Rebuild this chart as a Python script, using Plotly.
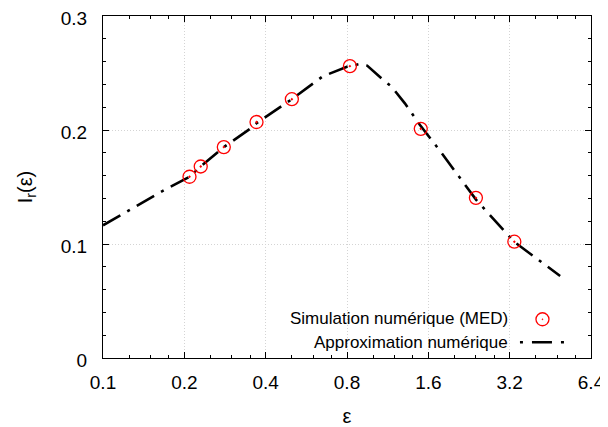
import plotly.graph_objects as go

# Simulation points (MED)
sim_x = [0.209, 0.23, 0.28, 0.37, 0.50, 0.82, 1.50, 2.40, 3.33]
sim_y = [0.159, 0.168, 0.185, 0.207, 0.227, 0.256, 0.201, 0.1405, 0.102]

# Numerical approximation curve
approx_x = [0.1, 0.164, 0.209, 0.23, 0.28, 0.35, 0.37, 0.5, 0.65, 0.8, 0.89, 0.95,
            1.09, 1.17, 1.31, 1.49, 1.74, 2.41, 3.33, 4.92]
approx_y = [0.1164, 0.1458, 0.159, 0.168, 0.185, 0.201, 0.206, 0.227, 0.247, 0.2555,
            0.2578, 0.2565, 0.2438, 0.238, 0.2234, 0.2043, 0.1838, 0.1385, 0.1018, 0.072]

x_ticks = [0.1, 0.2, 0.4, 0.8, 1.6, 3.2, 6.4]
x_ticktext = ["0.1", "0.2", "0.4", "0.8", "1.6", "3.2", "6.4"]
x_minor = [b * m for b in [0.1, 0.2, 0.4, 0.8, 1.6, 3.2] for m in (1.25, 1.5, 1.75)]
y_ticks = [0, 0.1, 0.2, 0.3]
y_ticktext = ["0", "0.1", "0.2", "0.3"]

legend_labels = ["Simulation numérique (MED)", "Approximation numérique"]

FONT = "Liberation Sans, Arial, Helvetica, sans-serif"
DASH = "20px,8px,3px,8px"

fig = go.Figure()
fig.add_trace(go.Scatter(x=approx_x, y=approx_y, mode="lines",
                         line=dict(color="black", width=2.6, dash=DASH),
                         name=legend_labels[1], showlegend=False))
fig.add_trace(go.Scatter(x=sim_x, y=sim_y, mode="markers",
                         marker=dict(symbol="circle-open-dot", size=13, color="red",
                                     line=dict(width=1.3, color="red")),
                         name=legend_labels[0], showlegend=False))

# page body has an 8px margin: the figure starts at (8, 8) in the window
OFF = 8
W, H = 608 - OFF, 427 - OFF
L, R, T, B = 103.3 - OFF, 17, 16 - OFF, 69.3
pw = W - L - R
ph = H - T - B

def px_x(p):
    return (p - OFF - L) / pw

def px_y(p):
    return (H - B - (p - OFF)) / ph

# legend (text right aligned, key on the right, like the original)
fig.add_annotation(x=px_x(510), y=px_y(318), xref="paper", yref="paper",
                   text=legend_labels[0], showarrow=False, xanchor="right", yanchor="middle",
                   font=dict(family=FONT, size=17, color="black"))
fig.add_annotation(x=px_x(510), y=px_y(342), xref="paper", yref="paper",
                   text=legend_labels[1], showarrow=False, xanchor="right", yanchor="middle",
                   font=dict(family=FONT, size=17, color="black"))
fig.add_shape(type="circle", xref="paper", yref="paper",
              x0=px_x(536), x1=px_x(549), y0=px_y(325.5), y1=px_y(312.5),
              line=dict(color="red", width=1.3))
fig.add_shape(type="circle", xref="paper", yref="paper",
              x0=px_x(542), x1=px_x(543), y0=px_y(319.5), y1=px_y(318.5),
              line=dict(color="red", width=0.6), fillcolor="red")
fig.add_shape(type="line", xref="paper", yref="paper",
              x0=px_x(520), x1=px_x(567), y0=px_y(342), y1=px_y(342),
              line=dict(color="black", width=2.6, dash="3px,9px,20px,9px"))

axis_common = dict(showline=True, linecolor="black", linewidth=1.3, mirror="allticks",
                   ticks="inside", ticklen=6, tickwidth=1, tickcolor="black",
                   showgrid=True, gridcolor="#d4d4d4", griddash="1px,2px", gridwidth=1,
                   zeroline=False, automargin=False, ticklabeloverflow="allow",
                   tickfont=dict(family=FONT, size=19, color="black"))

fig.update_xaxes(type="log", range=[-1, 0.80618], tickmode="array",
                 tickvals=x_ticks, ticktext=x_ticktext,
                 minor=dict(tickmode="array", tickvals=x_minor, ticks="inside",
                            ticklen=3, tickcolor="black", showgrid=False),
                 title=dict(text="ε", font=dict(family=FONT, size=20, color="black"),
                            standoff=18),
                 ticklabelstandoff=7,
                 **axis_common)
fig.update_yaxes(range=[0, 0.3], tickmode="array", tickvals=y_ticks, ticktext=y_ticktext,
                 minor=dict(dtick=0.02, ticks="inside", ticklen=3, tickcolor="black",
                            showgrid=False),
                 title=dict(text="I<sub>r</sub>(ε)", font=dict(family=FONT, size=20, color="black"),
                            standoff=22),
                 ticklabelstandoff=11, ticklabelshift=2,
                 **axis_common)

fig.update_layout(width=W, height=H, margin=dict(l=L, r=R, t=T, b=B, autoexpand=False),
                  plot_bgcolor="white", paper_bgcolor="white",
                  font=dict(family=FONT, size=16, color="black"))

fig.write_html("out.html")
